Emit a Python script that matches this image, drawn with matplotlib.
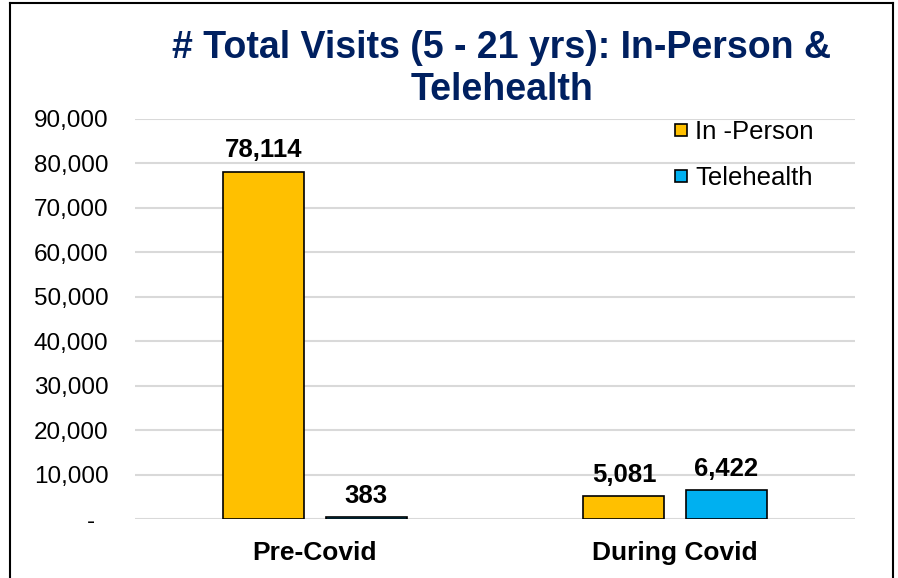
import matplotlib
matplotlib.use("Agg")
import matplotlib.pyplot as plt
from matplotlib.lines import Line2D
import numpy as np

categories = ["Pre-Covid", "During Covid"]
in_person = [78114, 5081]
telehealth = [383, 6422]
series_names = ["In -Person", "Telehealth"]
yticks = [0, 10000, 20000, 30000, 40000, 50000, 60000, 70000, 80000, 90000]
ytick_labels = ["-  ", "10,000", "20,000", "30,000", "40,000", "50,000",
                "60,000", "70,000", "80,000", "90,000"]

plt.rcParams['font.family'] = ['Liberation Sans', 'DejaVu Sans']

W, H = 898, 578
fig = plt.figure(figsize=(W / 100, H / 100), dpi=100)
ax = fig.add_axes([135 / W, 1 - 519 / H, 720 / W, 400 / H])

gold = "#FFC000"
blue = "#00B0F0"
x = np.arange(len(categories))
bw = 0.225
off = 0.1417
b1 = ax.bar(x - off, in_person, bw, color=gold, edgecolor="black", linewidth=1.2, zorder=3)
b2 = ax.bar(x + off, telehealth, bw, color=blue, edgecolor="black", linewidth=1.2, zorder=3)

for bars, vals in ((b1, in_person), (b2, telehealth)):
    for r, v in zip(bars, vals):
        ax.annotate(f"{v:,}", (r.get_x() + r.get_width() / 2, v),
                    xytext=(0, 7), textcoords="offset points",
                    ha="center", va="bottom", fontsize=18.5, fontweight="bold")

ax.set_xlim(-0.5, 1.5)
ax.set_ylim(0, 90000)
ax.set_yticks(yticks)
ax.set_yticklabels(ytick_labels, fontsize=17.5)
ax.set_xticks(x)
ax.set_xticklabels(categories, fontsize=19, fontweight="bold")
ax.tick_params(axis="both", length=0)
ax.tick_params(axis="y", pad=19)
ax.tick_params(axis="x", pad=16)
ax.grid(axis="y", color="#D9D9D9", linewidth=1.5, zorder=0)
for s in ax.spines.values():
    s.set_visible(False)

handles = [Line2D([], [], marker="s", linestyle="none", markersize=9,
                  markerfacecolor=c, markeredgecolor="black", markeredgewidth=1.2)
           for c in (gold, blue)]
fig.legend(handles, series_names, loc="upper left",
           bbox_to_anchor=(668 / W, 1 - 120 / H),
           frameon=False, fontsize=18.5, labelspacing=0.86, handletextpad=0.05,
           handlelength=1.0, borderpad=0, borderaxespad=0)

fig.text(502 / W, 1 - 69 / H, "# Total Visits (5 - 21 yrs): In-Person &\nTelehealth",
         ha="center", va="center", fontsize=27, fontweight="bold", color="#002060",
         linespacing=1.22)

# outer frame
fig.add_artist(Line2D([10 / W, 10 / W], [0, 1 - 3 / H], color="black", lw=1.5, transform=fig.transFigure))
fig.add_artist(Line2D([10 / W, 893 / W], [1 - 3 / H, 1 - 3 / H], color="black", lw=1.5, transform=fig.transFigure))
fig.add_artist(Line2D([893 / W, 893 / W], [0, 1 - 3 / H], color="black", lw=1.5, transform=fig.transFigure))

fig.savefig("out.png", dpi=100)
